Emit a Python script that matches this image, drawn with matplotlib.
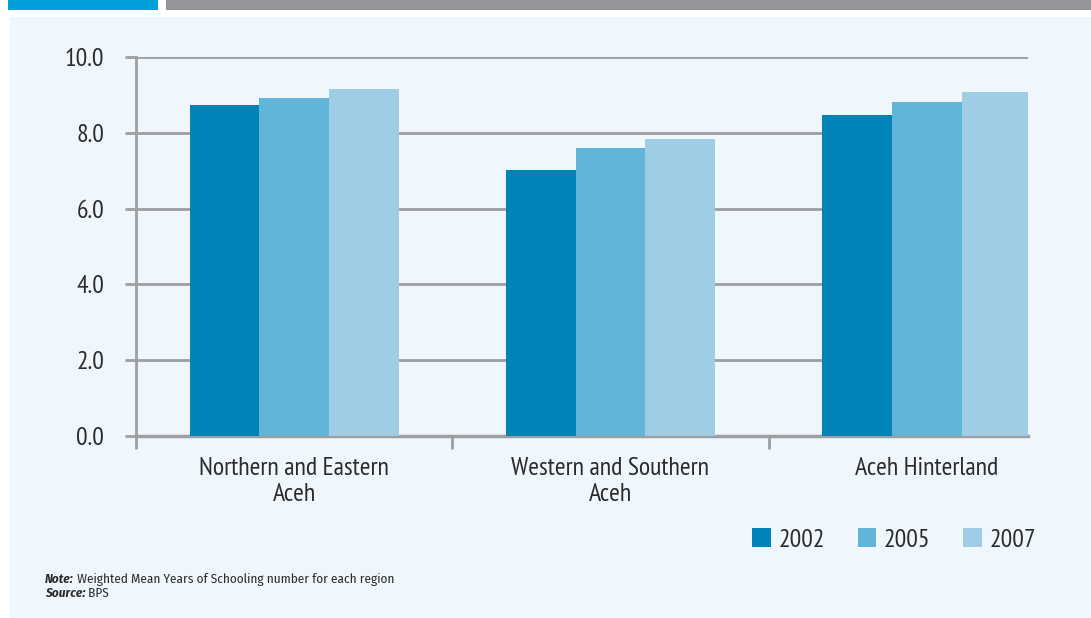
import numpy as np
import matplotlib
matplotlib.use('Agg')
import matplotlib.pyplot as plt
from matplotlib.patches import Rectangle
##################################################

# Weighted mean years of schooling by region (BPS)
regions = ['Northern and Eastern\nAceh', 'Western and Southern\nAceh', 'Aceh Hinterland']
years = ['2002', '2005', '2007']
y2002 = [8.73, 7.02, 8.47]
y2005 = [8.92, 7.60, 8.81]
y2007 = [9.16, 7.84, 9.08]
yticks = [0, 2, 4, 6, 8, 10]
##################################################

plt.rcParams['font.family'] = ['PT Sans Narrow', 'Roboto Condensed', 'DejaVu Sans']
note_font = ['Fira Sans Condensed', 'Roboto Condensed', 'DejaVu Sans']
text_col = '#2b2b2b'
grid_col = '#9d9fa2'
colors = ['#0084b8', '#60b5d9', '#9fcde5']
fs = 18.5

W, H = 1091, 618
fig = plt.figure(figsize=(W / 100, H / 100), dpi=100)
fig.patch.set_facecolor('white')

# page decoration: header strips and light panel
fig.patches.append(Rectangle((8 / W, 1 - 10 / H), 150 / W, 10 / H, transform=fig.transFigure,
                             facecolor='#00a0dc', edgecolor='none', zorder=-5))
fig.patches.append(Rectangle((166 / W, 1 - 10 / H), (W - 166) / W, 10 / H, transform=fig.transFigure,
                             facecolor='#939598', edgecolor='none', zorder=-5))
fig.patches.append(Rectangle((10 / W, 0), (W - 10) / W, 1 - 17 / H, transform=fig.transFigure,
                             facecolor='#eff7fd', edgecolor='none', zorder=-5))

ax = fig.add_axes([136 / W, (H - 436) / H, (1028 - 136) / W, (436 - 57) / H])
ax.set_facecolor('none')

x = np.arange(len(regions))
bw = 0.22
for i, (vals, col) in enumerate(zip([y2002, y2005, y2007], colors)):
    ax.bar(x + (i - 1) * bw, vals, bw, color=col, label=years[i], zorder=3)

ax.set_xlim(-0.5, 2.32)
ax.set_ylim(0, 10)
ax.set_yticks(yticks)
ax.set_yticklabels(['%.1f' % v for v in yticks])
ax.yaxis.grid(True, color=grid_col, linewidth=2, zorder=1)
ax.set_axisbelow(True)

# category boundaries carry the tick marks, labels sit in between
ax.set_xticks([-0.5, 0.5, 1.5])
ax.set_xticklabels([])
ax.set_xticks(x, minor=True)
ax.set_xticklabels(regions, minor=True, linespacing=1.2)
ax.tick_params(axis='x', which='major', length=9, width=2, color=grid_col)
ax.tick_params(axis='x', which='minor', length=0, pad=15, labelsize=fs, labelcolor=text_col)
ax.tick_params(axis='y', length=8, width=2, color=grid_col, pad=15, labelsize=fs, labelcolor=text_col)

for s in ['top', 'right']:
    ax.spines[s].set_visible(False)
ax.spines['left'].set_color(grid_col)
ax.spines['left'].set_linewidth(2)
ax.spines['bottom'].set_color(grid_col)
ax.spines['bottom'].set_linewidth(2.5)

leg = fig.legend(loc='center left', bbox_to_anchor=(752 / W, 1 - 540 / H), ncol=3, frameon=False,
                 fontsize=fs, handlelength=0.72, handleheight=0.72, handletextpad=0.3,
                 columnspacing=1.28, borderpad=0, borderaxespad=0)
for t in leg.get_texts():
    t.set_color(text_col)

# footnote with bold italic lead-ins
fig.canvas.draw()
r = fig.canvas.get_renderer()
for label, rest, ypx in [('Note:', ' Weighted Mean Years of Schooling number for each region', 579),
                         ('Source:', ' BPS', 593)]:
    t1 = fig.text(45 / W, 1 - ypx / H, label, fontsize=9.5, fontweight='bold', fontstyle='italic',
                  family=note_font, color=text_col, va='center')
    w = t1.get_window_extent(r).width
    fig.text((45 + w) / W, 1 - ypx / H, rest, fontsize=9.5, family=note_font, color=text_col, va='center')

fig.savefig('out.png', dpi=100, facecolor=fig.get_facecolor())
